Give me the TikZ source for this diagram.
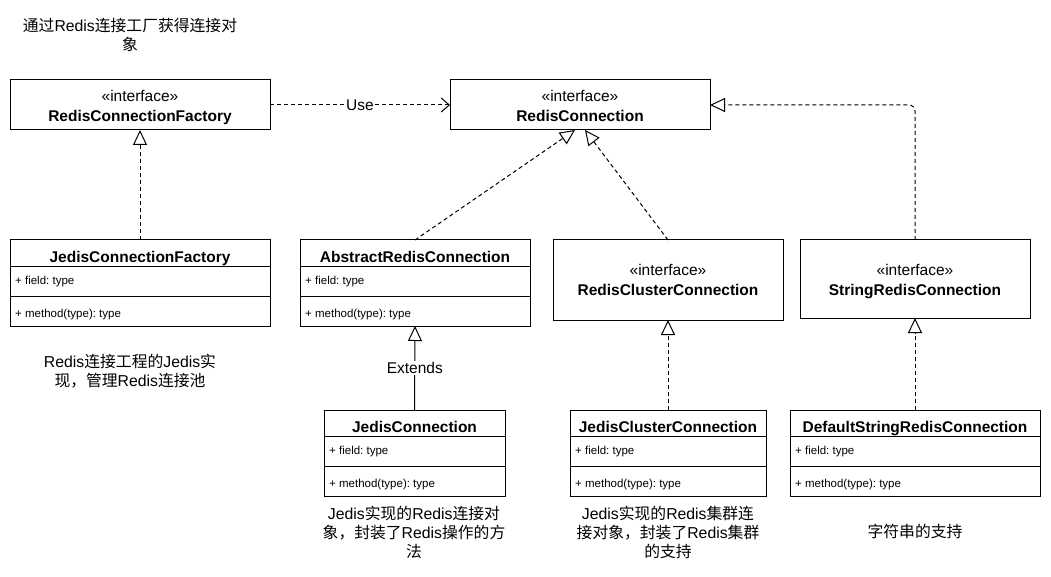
\documentclass[tikz,border=0pt]{standalone}
\usepackage{fontspec}
\setmainfont{Liberation Sans}
\newfontfamily\cjk{Noto Sans CJK SC}
\usetikzlibrary{arrows.meta}
\frenchspacing
\newcommand\umlclass[5]{% name, left, top, width, title
  \node[box, minimum width=#4, minimum height=86] (#1) at (#2,#3) {};
  \draw[thin line] (#2,#3+26) -- ++(#4,0);
  \draw[thin line] (#2,#3+56) -- ++(#4,0);
  \node[titletext] (#1-t) at (#2+#4/2,#3+22) {#5};
  \node[member] (#1-f) at (#2+5,#3+44) {+ field: type};
  \node[member] (#1-m) at (#2+5,#3+77) {+ method(type): type};
}
\newcommand\umliface[8]{% name, left, top, width, height, title, stereo baseline, title baseline
  \node[box, minimum width=#4, minimum height=#5] (#1) at (#2,#3) {};
  \node[stereo] (#1-s) at (#2+#4/2,#3+#7) {«interface»};
  \node[titletext] (#1-t) at (#2+#4/2,#3+#8) {#6};
}
\begin{document}
\begin{tikzpicture}[x=1pt,y=-1pt,
  box/.style={draw, line width=1pt, inner sep=0pt, outer sep=0pt, anchor=north west},
  thin line/.style={line width=1pt},
  titletext/.style={font=\fontsize{15.5}{19}\selectfont\bfseries, anchor=base, inner sep=0pt},
  stereo/.style={font=\fontsize{15.5}{19}\selectfont, anchor=base, inner sep=0pt},
  member/.style={font=\fontsize{11.5}{14}\selectfont\frenchspacing, anchor=base west, inner sep=0pt},
  note/.style={font=\fontsize{15.8}{19}\selectfont, align=center, inner sep=0pt, anchor=base},
  realize/.style={draw, line width=1pt, dash pattern=on 4pt off 3pt, -{Triangle[open,length=15pt,width=14pt]}},
  extend/.style={draw, line width=1pt, -{Triangle[open,length=15pt,width=14pt]}},
  use/.style={draw, line width=1pt, dash pattern=on 4pt off 3pt, -{Straight Barb[length=8pt,width=14pt]}},
  lbl/.style={font=\fontsize{15.5}{19}\selectfont, fill=white, inner sep=1pt}
]
\useasboundingbox (0,0) rectangle (1051,577);

% interfaces
\umliface{rcf}{10}{80}{260}{50}{RedisConnectionFactory}{21.5}{41.5}
\umliface{rc}{450}{80}{260}{50}{RedisConnection}{21.5}{41.5}
\umliface{rcc}{553}{240}{230}{80}{RedisClusterConnection}{35.5}{55.5}
\umliface{src}{800}{240}{230}{78}{StringRedisConnection}{35}{55}

% classes
\umlclass{jcf}{10}{240}{260}{JedisConnectionFactory}
\umlclass{arc}{300}{240}{230}{AbstractRedisConnection}
\umlclass{jc}{324}{410}{181}{JedisConnection}
\umlclass{jcc}{570}{410}{196}{JedisClusterConnection}
\umlclass{dsrc}{790}{410}{250}{DefaultStringRedisConnection}

% notes (anchor base = baseline of the last line)
\node[note] (n0) at (130,51) {{\cjk 通过}Redis{\cjk 连接工厂获得连接对}\\{\cjk 象}};
\node[note] (n1) at (130,386) {Redis{\cjk 连接工程的}Jedis{\cjk 实}\\{\cjk 现，管理}Redis{\cjk 连接池}};
\node[note] (n2) at (414,557) {Jedis{\cjk 实现的}Redis{\cjk 连接对}\\{\cjk 象，封装了}Redis{\cjk 操作的方}\\{\cjk 法}};
\node[note] (n3) at (668,557) {Jedis{\cjk 实现的}Redis{\cjk 集群连}\\{\cjk 接对象，封装了}Redis{\cjk 集群}\\{\cjk 的支持}};
\node[note] (n4) at (915,537) {{\cjk 字符串的支持}};

% connector end points on RedisConnection
\coordinate (rcin1) at (575,130);
\coordinate (rcin2) at (585,130);

% connectors
\draw[use] (rcf.east) -- node[lbl] (uselbl) {Use} (rc.west);
\draw[realize] (jcf.north) -- (rcf.south);
\draw[realize] (arc.north) -- (rcin1);
\draw[realize] (rcc.north) -- (rcin2);
\draw[realize, rounded corners=6pt] (src.north) |- (rc.east);
\draw[extend] (jc.north) -- node[lbl] (extlbl) {Extends} (arc.south);
\draw[realize] (jcc.north) -- (rcc.south);
\draw[realize] (dsrc.north) -- (src.south);
\end{tikzpicture}
\end{document}
